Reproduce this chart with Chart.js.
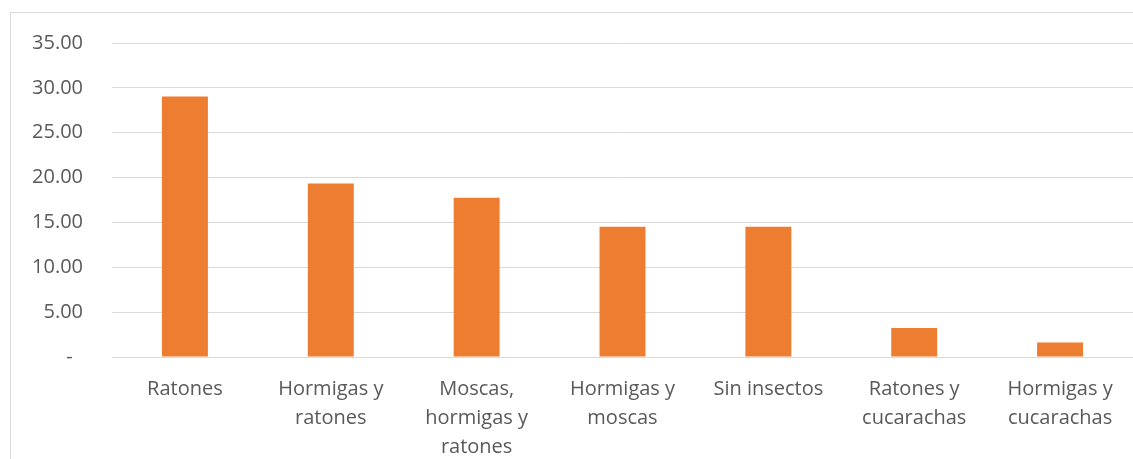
<!DOCTYPE html>
<html>
<head>
<meta charset="utf-8">
<script src="https://cdn.jsdelivr.net/npm/chart.js@4/dist/chart.umd.min.js"></script>
<style>
  body { margin: 0; background: #fff; overflow: hidden; }
  #wrap { position: relative; width: 1133px; height: 459px; }
  #frame { position: absolute; left: 10px; top: 12px; width: 1200px; height: 500px; border: 1px solid #d9d9d9; }
  canvas { position: absolute; left: 0; top: 0; }
</style>
</head>
<body>
<div id="wrap">
  <div id="frame"></div>
  <canvas id="chart" width="1133" height="459"></canvas>
</div>
<script>
// categorias (multi-linea como en el original)
const categorias = [
    ["Ratones"],
    ["Hormigas y", "ratones"],
    ["Moscas,", "hormigas y", "ratones"],
    ["Hormigas y", "moscas"],
    ["Sin insectos"],
    ["Ratones y", "cucarachas"],
    ["Hormigas y", "cucarachas"],
];
const porcentajes = [29.03, 19.35, 17.74, 14.52, 14.52, 3.23, 1.61];
const ejeY = { min: 0, max: 35, paso: 5 };

const GRIS_TEXTO = "#595959";
const GRIS_LINEA = "#d9d9d9";

new Chart(document.getElementById("chart"), {
    type: "bar",
    data: {
        labels: categorias,
        datasets: [
            {
                data: porcentajes,
                backgroundColor: "#ED7D31",
                borderWidth: 0,
                categoryPercentage: 1,
                barPercentage: 0.315,
            },
        ],
    },
    options: {
        responsive: false,
        animation: false,
        layout: { padding: { top: 43, right: 0, bottom: 0, left: 0 } },
        plugins: { legend: { display: false }, tooltip: { enabled: false } },
        scales: {
            x: {
                grid: { display: false, drawTicks: false },
                border: { display: true, color: GRIS_LINEA },
                ticks: {
                    color: GRIS_TEXTO,
                    font: { family: "'Open Sans'", size: 20, lineHeight: 1.45 },
                    padding: 18,
                    maxRotation: 0,
                    autoSkip: false,
                },
                afterFit: (scale) => { scale.height = 102; },
            },
            y: {
                min: ejeY.min,
                max: ejeY.max,
                grid: { color: GRIS_LINEA, drawTicks: false },
                border: { display: false },
                ticks: {
                    stepSize: ejeY.paso,
                    color: GRIS_TEXTO,
                    font: { family: "'Open Sans'", size: 20 },
                    padding: 29,
                    callback: (v) => (v === 0 ? "-  " : v.toFixed(2)),
                },
                afterFit: (scale) => { scale.width = 112; },
            },
        },
    },
});
</script>
</body>
</html>
